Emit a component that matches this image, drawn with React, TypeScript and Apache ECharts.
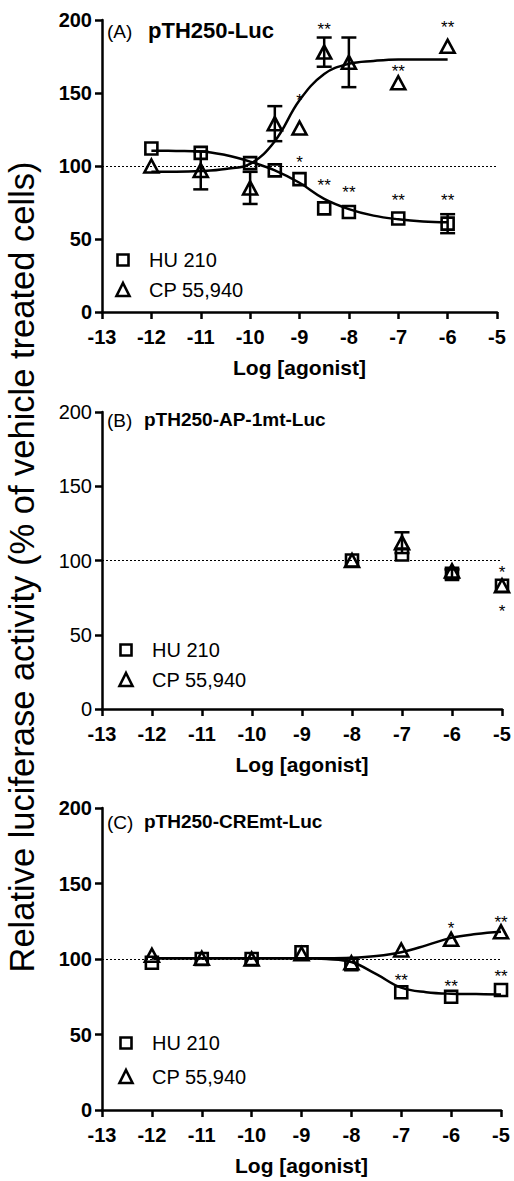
import React, { useEffect, useRef } from "react";
import * as echarts from "echarts";

// ---------- data ----------
const seriesNames = ["HU 210", "CP 55,940"];
const panelLetters = ["(A)", "(B)", "(C)"];
const panelNames = ["pTH250-Luc", "pTH250-AP-1mt-Luc", "pTH250-CREmt-Luc"];
const yTitle = "Relative luciferase activity (% of vehicle treated cells)";
const xTitle = "Log [agonist]";

// Panel A
const xA = [-12, -11, -10, -9.5, -9, -8.5, -8, -7, -6];
const yA_HU = [112, 109, 102, 97, 91, 71, 68.5, 64, 60.5];
const errA_HU = [0, 0, 0, 0, 0, 0, 0, 0, 6.5];
const yA_CP = [100, 97, 85, 129, 126, 178, 171, 157, 182];
const errA_CP = [0, 13, 11, 12, 0, 10, 17, 0, 0];
const curveXA = [-12, -11.5, -11, -10.5, -10, -9.5, -9, -8.5, -8, -7.5, -7, -6.5, -6];
const curveA_HU = [110.5, 110.3, 110, 107.5, 103, 97, 88.5, 77.5, 70.5, 66, 63.5, 62, 61.5];
const curveA_CP = [96, 96, 96.5, 98, 101.5, 117, 145, 163, 170, 172, 173, 173, 173];
const starsA: [number, number, string][] = [
  [-9, 148, "*"], [-8.5, 197, "**"], [-8, 200.5, "**"], [-7, 168, "**"], [-6, 198, "**"],
  [-9, 106, "*"], [-8.5, 90, "**"], [-8, 85, "**"], [-7, 80, "**"], [-6, 80, "**"],
];

// Panel B
const xB = [-8, -7, -6, -5];
const yB_HU = [100, 104, 91, 83];
const errB_HU = [0, 0, 3, 0];
const yB_CP = [100, 112, 93, 83];
const errB_CP = [0, 7, 0, 0];
const starsB: [number, number, string][] = [[-5, 95, "*"], [-5, 69, "*"]];

// Panel C
const xC = [-12, -11, -10, -9, -8, -7, -6, -5];
const yC_HU = [97.5, 100, 100, 104.5, 96.5, 78, 75, 79.5];
const errC_HU = [0, 0, 0, 0, 0, 0, 0, 0];
const yC_CP = [102.5, 100.5, 100, 103.5, 97.5, 106, 113, 118];
const errC_CP = [0, 0, 0, 0, 0, 0, 0, 0];
const curveXC = [-12, -11, -10, -9, -8.5, -8, -7.5, -7, -6.5, -6, -5.5, -5];
const curveC_HU = [100.5, 100.5, 100.5, 100.5, 100, 98, 90, 81, 78, 77, 76.8, 76.5];
const curveC_CP = [100.5, 100.5, 100.5, 100.5, 100.5, 100.8, 102, 104.5, 109, 114, 116.5, 118];
const starsC: [number, number, string][] = [
  [-7, 89, "**"], [-6, 85, "**"], [-5, 91.5, "**"], [-6, 123.5, "*"], [-5, 127.5, "**"],
];

const refLine = 100;
const xTicks = { min: -13, max: -5, interval: 1 };
const yTicks = { min: 0, max: 200, interval: 50 };

// ---------- layout ----------
const FONT = "Liberation Sans, Arial, Helvetica, sans-serif";
const grids = [
  { left: 102, top: 20, width: 395, height: 292 },
  { left: 102, top: 412, width: 400, height: 297 },
  { left: 102, top: 808, width: 399, height: 302 },
];
const legendRows = [
  [260, 290],
  [650, 680],
  [1043, 1077],
];
const titleY = [31, 420, 822];
const titleSize = [22, 19, 19];
const yLabelBold = [true, false, true];

type PanelData = {
  x: number[];
  hu: number[];
  huErr: number[];
  cp: number[];
  cpErr: number[];
  curveX?: number[];
  curveHU?: number[];
  curveCP?: number[];
  stars: [number, number, string][];
};

const panels: PanelData[] = [
  { x: xA, hu: yA_HU, huErr: errA_HU, cp: yA_CP, cpErr: errA_CP, curveX: curveXA, curveHU: curveA_HU, curveCP: curveA_CP, stars: starsA },
  { x: xB, hu: yB_HU, huErr: errB_HU, cp: yB_CP, cpErr: errB_CP, stars: starsB },
  { x: xC, hu: yC_HU, huErr: errC_HU, cp: yC_CP, cpErr: errC_CP, curveX: curveXC, curveHU: curveC_HU, curveCP: curveC_CP, stars: starsC },
];

function zip(xs: number[], ys: number[]) {
  return xs.map((x, i) => [x, ys[i]]);
}

function buildOption() {
  const series: any[] = [];
  const graphic: any[] = [];

  panels.forEach((p, i) => {
    const axis = { xAxisIndex: i, yAxisIndex: i };
    if (p.curveX && p.curveHU && p.curveCP) {
      [p.curveHU, p.curveCP].forEach((cy, k) => {
        series.push({
          ...axis,
          type: "line",
          name: seriesNames[k] + " fit",
          data: zip(p.curveX!, cy),
          smooth: 0.4,
          showSymbol: false,
          symbol: "none",
          lineStyle: { color: "#000", width: 2.5, opacity: 1 },
          z: 3,
          silent: true,
        });
      });
    }
    // error bars
    const errData: number[][] = [];
    [
      [p.hu, p.huErr],
      [p.cp, p.cpErr],
    ].forEach(([ys, es]) => {
      p.x.forEach((x, j) => {
        if (es[j] > 0) errData.push([x, ys[j], es[j]]);
      });
    });
    series.push({
      ...axis,
      type: "custom",
      name: "err" + i,
      data: errData,
      silent: true,
      z: 4,
      renderItem: (params: any, api: any) => {
        const x = api.value(0);
        const y = api.value(1);
        const e = api.value(2);
        const top = api.coord([x, y + e]);
        const bot = api.coord([x, y - e]);
        const hw = 7.5;
        const st = { stroke: "#000", lineWidth: 2.5 };
        return {
          type: "group",
          children: [
            { type: "line", shape: { x1: top[0], y1: top[1], x2: bot[0], y2: bot[1] }, style: st },
            { type: "line", shape: { x1: top[0] - hw, y1: top[1], x2: top[0] + hw, y2: top[1] }, style: st },
            { type: "line", shape: { x1: bot[0] - hw, y1: bot[1], x2: bot[0] + hw, y2: bot[1] }, style: st },
          ],
        };
      },
    });
    // markers
    const markerStyle = { color: "rgba(0,0,0,0)", borderColor: "#000", borderWidth: 2.6, opacity: 1 };
    series.push({
      ...axis,
      type: "scatter",
      name: seriesNames[0],
      data: zip(p.x, p.hu),
      symbol: "rect",
      symbolSize: 12,
      itemStyle: markerStyle,
      z: 5,
      markLine: {
        silent: true,
        symbol: ["none", "none"],
        label: { show: false },
        lineStyle: { color: "#000", width: 1, type: [2, 2], opacity: 1 },
        data: [{ yAxis: refLine }],
        z: 1,
      },
    });
    series.push({
      ...axis,
      type: "scatter",
      name: seriesNames[1],
      data: zip(p.x, p.cp),
      symbol: "triangle",
      symbolSize: [14, 13],
      itemStyle: markerStyle,
      z: 6,
    });
    // significance stars
    series.push({
      ...axis,
      type: "scatter",
      name: "stars" + i,
      data: p.stars,
      symbolSize: 1,
      itemStyle: { color: "rgba(0,0,0,0)", opacity: 1 },
      silent: true,
      z: 7,
      label: {
        show: true,
        position: "inside",
        formatter: (q: any) => q.data[2],
        color: "#000",
        opacity: 1,
        fontSize: 17,
        fontFamily: FONT,
        offset: [0, 5],
      },
    });

    // panel title
    graphic.push({
      type: "text",
      x: 107,
      y: titleY[i],
      style: { text: panelLetters[i], fontSize: 19, fontFamily: FONT, fill: "#000", align: "left", verticalAlign: "middle" },
    });
    graphic.push({
      type: "text",
      x: i === 0 ? 148 : 144,
      y: titleY[i] - 1,
      style: { text: panelNames[i], fontSize: titleSize[i], fontWeight: "bold", fontFamily: FONT, fill: "#000", align: "left", verticalAlign: "middle" },
    });
    // legend
    const [r1, r2] = legendRows[i];
    const lx = i === 0 ? 123 : 126;
    graphic.push({
      type: "rect",
      shape: { x: lx - 5.5, y: r1 - 5.5, width: 11, height: 11 },
      style: { fill: "none", stroke: "#000", lineWidth: 2.6 },
    });
    graphic.push({
      type: "polygon",
      shape: { points: [[lx, r2 - 7], [lx + 6.5, r2 + 6], [lx - 6.5, r2 + 6]] },
      style: { fill: "none", stroke: "#000", lineWidth: 2.6 },
    });
    graphic.push({
      type: "text",
      x: lx + 26,
      y: r1,
      style: { text: seriesNames[0], fontSize: 20, fontFamily: FONT, fill: "#000", align: "left", verticalAlign: "middle" },
    });
    graphic.push({
      type: "text",
      x: lx + 26,
      y: r2,
      style: { text: seriesNames[1], fontSize: 20, fontFamily: FONT, fill: "#000", align: "left", verticalAlign: "middle" },
    });
  });

  graphic.push({
    type: "text",
    x: 22,
    y: 567,
    rotation: Math.PI / 2,
    style: { text: yTitle, fontSize: 34.5, fontFamily: FONT, fill: "#000", align: "center", verticalAlign: "middle" },
  });

  const axisLine = { show: true, onZero: false, lineStyle: { color: "#000", width: 2.5 } };
  const axisTick = { show: true, length: 7, lineStyle: { color: "#000", width: 2.5 } };

  return {
    animation: false,
    textStyle: { fontFamily: FONT },
    grid: grids.map((g) => ({ ...g, containLabel: false })),
    xAxis: grids.map((_, i) => ({
      gridIndex: i,
      type: "value",
      ...xTicks,
      axisLine,
      axisTick,
      splitLine: { show: false },
      axisLabel: { color: "#000", fontSize: 20, fontWeight: "bold", fontFamily: FONT, margin: 15 },
      name: xTitle,
      nameLocation: "middle",
      nameGap: 45,
      nameTextStyle: { color: "#000", fontSize: 21, fontWeight: "bold", fontFamily: FONT },
    })),
    yAxis: grids.map((_, i) => ({
      gridIndex: i,
      type: "value",
      ...yTicks,
      axisLine,
      axisTick,
      splitLine: { show: false },
      axisLabel: {
        color: "#000",
        fontSize: 20,
        fontWeight: yLabelBold[i] ? "bold" : "normal",
        fontFamily: FONT,
        margin: 10,
      },
    })),
    series,
    graphic,
  };
}

export default function App() {
  const ref = useRef<HTMLDivElement>(null);
  useEffect(() => {
    document.body.style.margin = "0";
    const chart = echarts.init(ref.current!, null, { renderer: "svg" });
    chart.setOption(buildOption() as any);
    return () => chart.dispose();
  }, []);
  return <div ref={ref} style={{ width: 514, height: 1181, background: "#fff" }} />;
}
